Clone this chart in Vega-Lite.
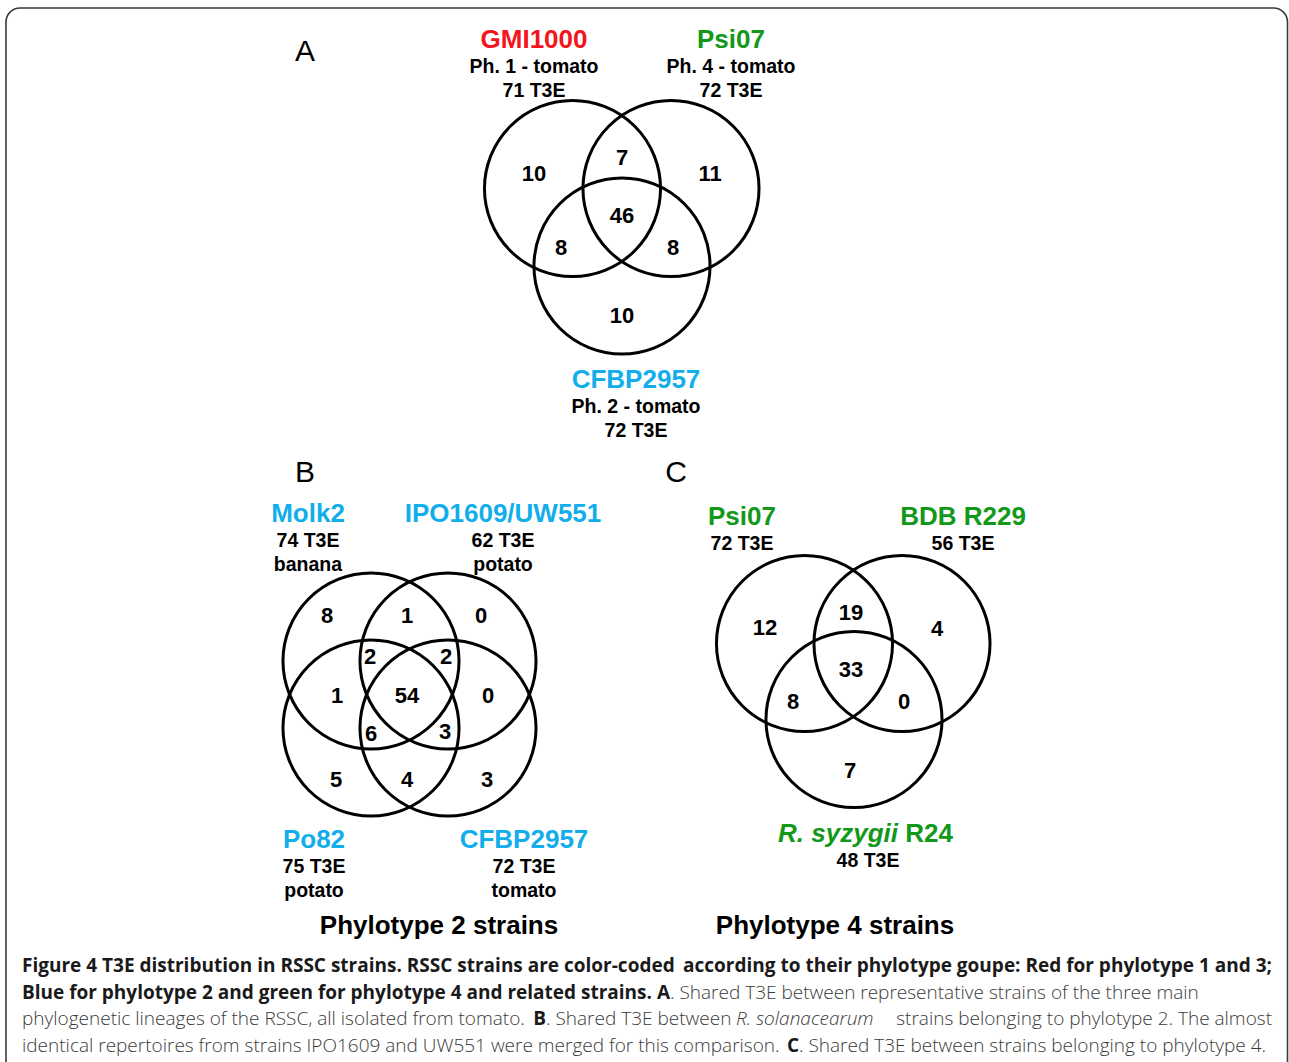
{
  "$schema": "https://vega.github.io/schema/vega-lite/v6.json",
  "width": 1289,
  "height": 1062,
  "autosize": {"type": "fit", "contains": "padding"},
  "padding": 0,
  "background": "white",
  "config": {"view": {"stroke": null}},
  "datasets": {
    "frame": [{"x": 6, "x2": 1287.5, "y": 8, "y2": 1080}],
    "circles": [
      {"panel": "A", "strain": "GMI1000", "cx": 572.5, "cy": 188.5},
      {"panel": "A", "strain": "Psi07", "cx": 671, "cy": 188.5},
      {"panel": "A", "strain": "CFBP2957", "cx": 622, "cy": 266},
      {"panel": "B", "strain": "Molk2", "cx": 371, "cy": 661},
      {"panel": "B", "strain": "IPO1609/UW551", "cx": 448, "cy": 661},
      {"panel": "B", "strain": "Po82", "cx": 371, "cy": 728},
      {"panel": "B", "strain": "CFBP2957", "cx": 448, "cy": 728},
      {"panel": "C", "strain": "Psi07", "cx": 804.5, "cy": 643.5},
      {"panel": "C", "strain": "BDB R229", "cx": 902, "cy": 643.5},
      {"panel": "C", "strain": "R. syzygii R24", "cx": 854, "cy": 719.5}
    ],
    "labels": [
      {"kind": "panel", "text": "A", "x": 305, "y": 52},
      {"kind": "panel", "text": "B", "x": 305, "y": 473},
      {"kind": "panel", "text": "C", "x": 676, "y": 473},
      {"kind": "name", "text": "GMI1000", "phylotype": "1", "x": 534, "y": 40},
      {"kind": "sub", "text": "Ph. 1 - tomato", "x": 534, "y": 67},
      {"kind": "sub", "text": "71 T3E", "x": 534, "y": 91},
      {"kind": "name", "text": "Psi07", "phylotype": "4", "x": 731, "y": 40},
      {"kind": "sub", "text": "Ph. 4 - tomato", "x": 731, "y": 67},
      {"kind": "sub", "text": "72 T3E", "x": 731, "y": 91},
      {"kind": "name", "text": "CFBP2957", "phylotype": "2", "x": 636, "y": 380},
      {"kind": "sub", "text": "Ph. 2 - tomato", "x": 636, "y": 407},
      {"kind": "sub", "text": "72 T3E", "x": 636, "y": 431},
      {"kind": "count", "text": "10", "x": 534, "y": 174},
      {"kind": "count", "text": "7", "x": 622, "y": 158},
      {"kind": "count", "text": "11", "x": 710, "y": 174},
      {"kind": "count", "text": "46", "x": 622, "y": 216},
      {"kind": "count", "text": "8", "x": 561, "y": 248},
      {"kind": "count", "text": "8", "x": 673, "y": 248},
      {"kind": "count", "text": "10", "x": 622, "y": 316},
      {"kind": "name", "text": "Molk2", "phylotype": "2", "x": 308, "y": 514},
      {"kind": "sub", "text": "74 T3E", "x": 308, "y": 541},
      {"kind": "sub", "text": "banana", "x": 308, "y": 565},
      {"kind": "name", "text": "IPO1609/UW551", "phylotype": "2", "x": 503, "y": 514},
      {"kind": "sub", "text": "62 T3E", "x": 503, "y": 541},
      {"kind": "sub", "text": "potato", "x": 503, "y": 565},
      {"kind": "count", "text": "8", "x": 327, "y": 616},
      {"kind": "count", "text": "1", "x": 407, "y": 616},
      {"kind": "count", "text": "0", "x": 481, "y": 616},
      {"kind": "count", "text": "2", "x": 370, "y": 657},
      {"kind": "count", "text": "2", "x": 446, "y": 657},
      {"kind": "count", "text": "1", "x": 337, "y": 696},
      {"kind": "count", "text": "54", "x": 407, "y": 696},
      {"kind": "count", "text": "0", "x": 488, "y": 696},
      {"kind": "count", "text": "6", "x": 371, "y": 734},
      {"kind": "count", "text": "3", "x": 445, "y": 732},
      {"kind": "count", "text": "5", "x": 336, "y": 780},
      {"kind": "count", "text": "4", "x": 407, "y": 780},
      {"kind": "count", "text": "3", "x": 487, "y": 780},
      {"kind": "name", "text": "Po82", "phylotype": "2", "x": 314, "y": 840},
      {"kind": "sub", "text": "75 T3E", "x": 314, "y": 867},
      {"kind": "sub", "text": "potato", "x": 314, "y": 891},
      {"kind": "name", "text": "CFBP2957", "phylotype": "2", "x": 524, "y": 840},
      {"kind": "sub", "text": "72 T3E", "x": 524, "y": 867},
      {"kind": "sub", "text": "tomato", "x": 524, "y": 891},
      {"kind": "title", "text": "Phylotype 2 strains", "x": 439, "y": 926},
      {"kind": "name", "text": "Psi07", "phylotype": "4", "x": 742, "y": 517},
      {"kind": "sub", "text": "72 T3E", "x": 742, "y": 544},
      {"kind": "name", "text": "BDB R229", "phylotype": "4", "x": 963, "y": 517},
      {"kind": "sub", "text": "56 T3E", "x": 963, "y": 544},
      {"kind": "count", "text": "12", "x": 765, "y": 628},
      {"kind": "count", "text": "19", "x": 851, "y": 613},
      {"kind": "count", "text": "4", "x": 937, "y": 629},
      {"kind": "count", "text": "33", "x": 851, "y": 670},
      {"kind": "count", "text": "8", "x": 793, "y": 702},
      {"kind": "count", "text": "0", "x": 904, "y": 702},
      {"kind": "count", "text": "7", "x": 850, "y": 771},
      {"kind": "nameItalic", "text": "R. syzygii", "phylotype": "4", "x": 838, "y": 834},
      {"kind": "name", "text": "R24", "phylotype": "4", "x": 929, "y": 834},
      {"kind": "sub", "text": "48 T3E", "x": 868, "y": 861},
      {"kind": "title", "text": "Phylotype 4 strains", "x": 835, "y": 926}
    ],
    "caption": [
      {"fmt": "bold", "anchor": "start", "x": 22, "y": 972, "text": "Figure 4 T3E distribution in RSSC strains. RSSC strains are color-coded"},
      {"fmt": "bold", "anchor": "end", "x": 1272, "y": 972, "text": "according to their phylotype goupe: Red for phylotype 1 and 3;"},
      {"fmt": "bold", "anchor": "end", "x": 670, "y": 999, "text": "Blue for phylotype 2 and green for phylotype 4 and related strains. A"},
      {"fmt": "regular", "anchor": "start", "x": 670, "y": 999, "text": ". Shared T3E between representative strains of the three main"},
      {"fmt": "regular", "anchor": "start", "x": 22, "y": 1025, "text": "phylogenetic lineages of the RSSC, all isolated from tomato."},
      {"fmt": "bold", "anchor": "end", "x": 546, "y": 1025, "text": "B"},
      {"fmt": "regular", "anchor": "start", "x": 546, "y": 1025, "text": ". Shared T3E between"},
      {"fmt": "italic", "anchor": "start", "x": 736, "y": 1025, "text": "R. solanacearum"},
      {"fmt": "regular", "anchor": "end", "x": 1272, "y": 1025, "text": "strains belonging to phylotype 2. The almost"},
      {"fmt": "regular", "anchor": "start", "x": 22, "y": 1052, "text": "identical repertoires from strains IPO1609 and UW551 were merged for this comparison."},
      {"fmt": "bold", "anchor": "end", "x": 799, "y": 1052, "text": "C"},
      {"fmt": "regular", "anchor": "start", "x": 799, "y": 1052, "text": ". Shared T3E between strains belonging to phylotype 4."}
    ]
  },
  "encoding": {
    "x": {"field": "x", "type": "quantitative", "scale": {"domain": [0, 1289], "nice": false, "zero": false}, "axis": null},
    "y": {"field": "y", "type": "quantitative", "scale": {"domain": [0, 1062], "nice": false, "zero": false, "reverse": true}, "axis": null}
  },
  "layer": [
    {
      "data": {"name": "frame"},
      "mark": {"type": "rect", "fill": "white", "fillOpacity": 0, "stroke": "#3a3a3a", "strokeWidth": 1.6, "cornerRadius": 14, "clip": true},
      "encoding": {
        "x2": {"field": "x2"},
        "y2": {"field": "y2"}
      }
    },
    {
      "data": {"name": "circles"},
      "mark": {"type": "point", "shape": "circle", "filled": false, "stroke": "black", "strokeWidth": 3, "size": 31000, "opacity": 1},
      "encoding": {
        "x": {"field": "cx", "type": "quantitative", "scale": {"domain": [0, 1289], "nice": false, "zero": false}, "axis": null},
        "y": {"field": "cy", "type": "quantitative", "scale": {"domain": [0, 1062], "nice": false, "zero": false, "reverse": true}, "axis": null}
      }
    },
    {
      "data": {"name": "labels"},
      "transform": [{"filter": "datum.kind === 'panel'"}],
      "mark": {"type": "text", "font": "Liberation Sans", "fontSize": 30, "fontWeight": "normal", "align": "center", "baseline": "middle", "color": "black"},
      "encoding": {"text": {"field": "text"}}
    },
    {
      "data": {"name": "labels"},
      "transform": [{"filter": "datum.kind === 'name'"}],
      "mark": {"type": "text", "font": "Liberation Sans", "fontSize": 26, "fontWeight": "bold", "align": "center", "baseline": "middle"},
      "encoding": {
        "text": {"field": "text"},
        "color": {"field": "phylotype", "type": "nominal", "scale": {"domain": ["1", "2", "4"], "range": ["#f5141c", "#12aeec", "#12991a"]}, "legend": null}
      }
    },
    {
      "data": {"name": "labels"},
      "transform": [{"filter": "datum.kind === 'nameItalic'"}],
      "mark": {"type": "text", "font": "Liberation Sans", "fontSize": 26, "fontWeight": "bold", "fontStyle": "italic", "align": "center", "baseline": "middle"},
      "encoding": {
        "text": {"field": "text"},
        "color": {"field": "phylotype", "type": "nominal", "scale": {"domain": ["1", "2", "4"], "range": ["#f5141c", "#12aeec", "#12991a"]}, "legend": null}
      }
    },
    {
      "data": {"name": "labels"},
      "transform": [{"filter": "datum.kind === 'sub'"}],
      "mark": {"type": "text", "font": "Liberation Sans", "fontSize": 19.5, "fontWeight": "bold", "align": "center", "baseline": "middle", "color": "black"},
      "encoding": {"text": {"field": "text"}}
    },
    {
      "data": {"name": "labels"},
      "transform": [{"filter": "datum.kind === 'count'"}],
      "mark": {"type": "text", "font": "Liberation Sans", "fontSize": 22, "fontWeight": "bold", "align": "center", "baseline": "middle", "color": "black"},
      "encoding": {"text": {"field": "text"}}
    },
    {
      "data": {"name": "labels"},
      "transform": [{"filter": "datum.kind === 'title'"}],
      "mark": {"type": "text", "font": "Liberation Sans", "fontSize": 26, "fontWeight": "bold", "align": "center", "baseline": "middle", "color": "black"},
      "encoding": {"text": {"field": "text"}}
    },
    {
      "data": {"name": "caption"},
      "transform": [{"filter": "datum.fmt === 'bold' && datum.anchor === 'start'"}],
      "mark": {"type": "text", "font": "Open Sans", "fontSize": 19, "fontWeight": "bold", "align": "left", "baseline": "alphabetic", "color": "#1a1a1a"},
      "encoding": {"text": {"field": "text"}}
    },
    {
      "data": {"name": "caption"},
      "transform": [{"filter": "datum.fmt === 'bold' && datum.anchor === 'end'"}],
      "mark": {"type": "text", "font": "Open Sans", "fontSize": 19, "fontWeight": "bold", "align": "right", "baseline": "alphabetic", "color": "#1a1a1a"},
      "encoding": {"text": {"field": "text"}}
    },
    {
      "data": {"name": "caption"},
      "transform": [{"filter": "datum.fmt === 'regular' && datum.anchor === 'start'"}],
      "mark": {"type": "text", "font": "Open Sans", "fontSize": 19, "fontWeight": 300, "align": "left", "baseline": "alphabetic", "color": "#3a3a3a"},
      "encoding": {"text": {"field": "text"}}
    },
    {
      "data": {"name": "caption"},
      "transform": [{"filter": "datum.fmt === 'regular' && datum.anchor === 'end'"}],
      "mark": {"type": "text", "font": "Open Sans", "fontSize": 19, "fontWeight": 300, "align": "right", "baseline": "alphabetic", "color": "#3a3a3a"},
      "encoding": {"text": {"field": "text"}}
    },
    {
      "data": {"name": "caption"},
      "transform": [{"filter": "datum.fmt === 'italic'"}],
      "mark": {"type": "text", "font": "Open Sans", "fontSize": 19, "fontWeight": 300, "fontStyle": "italic", "align": "left", "baseline": "alphabetic", "color": "#3a3a3a"},
      "encoding": {"text": {"field": "text"}}
    }
  ]
}
